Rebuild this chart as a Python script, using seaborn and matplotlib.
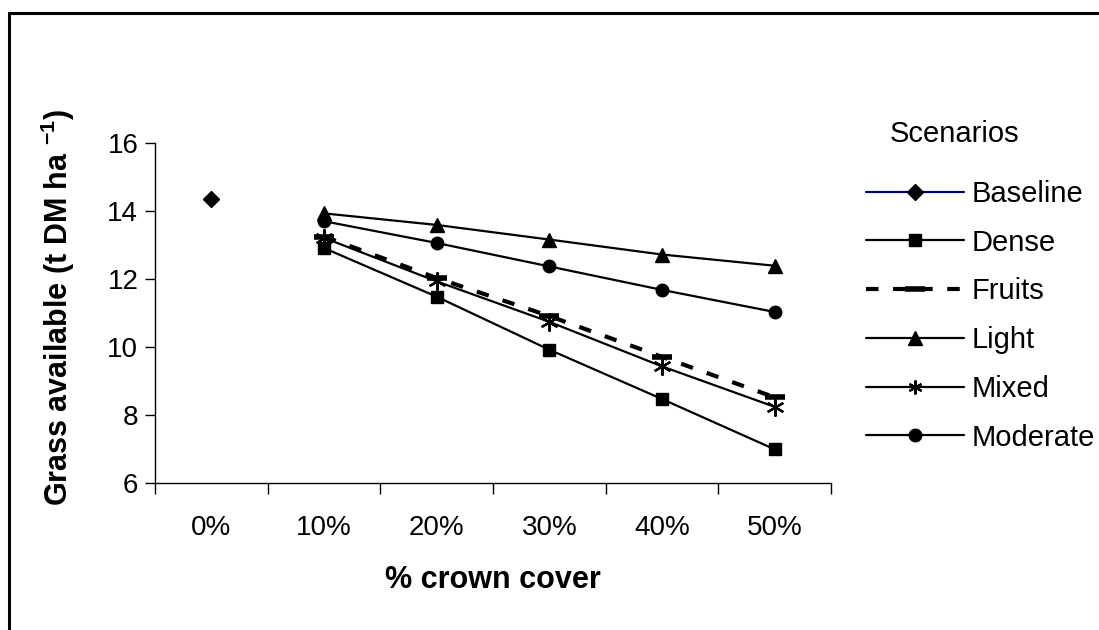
import matplotlib
matplotlib.use("Agg")
import matplotlib.pyplot as plt
import seaborn as sns
import pandas as pd
import numpy as np
from matplotlib.lines import Line2D

categories = ["0%", "10%", "20%", "30%", "40%", "50%"]
baseline = [14.35, None, None, None, None, None]
dense = [None, 12.91, 11.48, 9.92, 8.47, 6.99]
fruits = [None, 13.25, 12.03, 10.91, 9.71, 8.52]
light = [None, 13.93, 13.59, 13.16, 12.72, 12.39]
mixed = [None, 13.21, 11.93, 10.74, 9.43, 8.24]
moderate = [None, 13.70, 13.06, 12.37, 11.68, 11.03]

series_names = ["Baseline", "Dense", "Fruits", "Light", "Mixed", "Moderate"]
series_vals = [baseline, dense, fruits, light, mixed, moderate]

sns.set_style("white")
plt.rcParams['font.family'] = ['Liberation Sans', 'DejaVu Sans']
plt.rcParams['text.color'] = 'black'
plt.rcParams['axes.labelcolor'] = 'black'
plt.rcParams['xtick.color'] = 'black'
plt.rcParams['ytick.color'] = 'black'
plt.rcParams['mathtext.fontset'] = 'custom'
plt.rcParams['mathtext.rm'] = 'Liberation Sans'
plt.rcParams['mathtext.bf'] = 'Liberation Sans:bold'

W, H = 1099, 630
fig = plt.figure(figsize=(W / 100, H / 100), dpi=100)
ax = fig.add_axes([155 / W, 1 - 483 / H, (831 - 155) / W, (483 - 143) / H])

styles = {
    "Baseline": dict(marker="D", ms=8, ls="-", mfc="black", mec="black", color="#000080"),
    "Dense": dict(marker="s", ms=9, ls="-", mfc="black", mec="black", color="black"),
    "Fruits": dict(marker="_", ms=14, mew=4, ls=(0, (3, 3.5)), mfc="black", mec="black", color="black"),
    "Light": dict(marker="^", ms=10, ls="-", mfc="black", mec="black", color="black"),
    "Mixed": dict(marker=(6, 2, 0), ms=13, mew=1.6, ls="-", mfc="black", mec="black", color="black"),
    "Moderate": dict(marker="o", ms=9, ls="-", mfc="black", mec="black", color="black"),
}
lw = {"Fruits": 3.0}

for name, vals in zip(series_names, series_vals):
    df = pd.DataFrame({"pos": np.arange(len(categories)), "value": vals}).dropna()
    st = dict(styles[name])
    ls = st.pop("ls")
    color = st.pop("color")
    sns.lineplot(data=df, x="pos", y="value", ax=ax, color=color, linestyle=ls,
                 linewidth=lw.get(name, 1.6), markeredgewidth=st.pop("mew", 1.0), **st)

ax.set_xlim(-0.5, 5.5)
ax.set_ylim(6, 16)
ax.set_yticks([6, 8, 10, 12, 14, 16])
ax.set_xticks(np.arange(-0.5, 6.0, 1.0))
ax.set_xticklabels([])
ax.set_xticks(np.arange(len(categories)), minor=True)
ax.set_xticklabels(categories, minor=True)
ax.tick_params(axis="x", which="major", direction="out", length=8, width=1, color="black", bottom=True)
ax.tick_params(axis="x", which="minor", length=0, pad=23, labelsize=20)
ax.tick_params(axis="y", direction="out", length=7, width=1, color="black", left=True, labelsize=20, pad=5)

for s in ["top", "right"]:
    ax.spines[s].set_visible(False)
for s in ["left", "bottom"]:
    ax.spines[s].set_color("black")
    ax.spines[s].set_linewidth(1.0)

ax.set_xlabel("% crown cover", fontsize=22, fontweight="bold", labelpad=17)
ax.set_ylabel("Grass available (t DM ha $^{\\mathbf{-1}}$)", fontsize=22, fontweight="bold")
ax.yaxis.set_label_coords((77 - 155) / (831 - 155), (483 - 307) / (483 - 143))

handles = []
for name in series_names:
    st = dict(styles[name])
    ls = st.pop("ls")
    color = st.pop("color")
    mew = st.pop("mew", 1.0)
    if name == "Mixed":
        st["ms"] = 10
    handles.append(Line2D([0], [0], color=color, linestyle=ls, linewidth=lw.get(name, 1.6),
                          markeredgewidth=mew, **st))
leg = fig.legend(handles, series_names, loc="upper left",
                 bbox_to_anchor=(866 / W, 1 - 180 / H), frameon=False, fontsize=21,
                 handlelength=3.36, handletextpad=0.27, labelspacing=0.71,
                 borderpad=0, borderaxespad=0)
fig.text(890 / W, 1 - 134 / H, "Scenarios", fontsize=21, ha="left", va="center")

# outer frame (top and left edges)
fig.add_artist(Line2D([9 / W, 1.0], [1 - 12.5 / H, 1 - 12.5 / H], transform=fig.transFigure,
                      color="black", linewidth=2.2))
fig.add_artist(Line2D([9 / W, 9 / W], [0, 1 - 12.5 / H], transform=fig.transFigure,
                      color="black", linewidth=2.2))

fig.savefig("out.png", dpi=100)
